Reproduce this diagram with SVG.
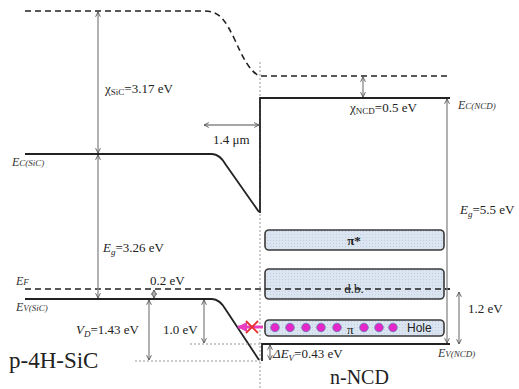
<svg xmlns="http://www.w3.org/2000/svg" width="519" height="389" viewBox="0 0 519 389">
<defs>
<pattern id="dots" width="3" height="3" patternUnits="userSpaceOnUse">
<rect width="3" height="3" fill="#dbe5f1"/>
<rect width="1" height="1" fill="#c3cfdf"/>
</pattern>
<marker id="ah" viewBox="0 0 10 10" refX="9" refY="5" markerWidth="6" markerHeight="6" orient="auto-start-reverse" markerUnits="userSpaceOnUse">
<path d="M1,1 L9,5 L1,9" fill="none" stroke="#555" stroke-width="1.5"/>
</marker>
<marker id="pk" viewBox="0 0 10 10" refX="9" refY="5" markerWidth="10" markerHeight="10" orient="auto" markerUnits="userSpaceOnUse">
<path d="M0,0 L10,5 L0,10 Z" fill="#e83fc0"/>
</marker>
</defs>
<style>
.band{fill:none;stroke:#222;stroke-width:1.8}
.vac{fill:none;stroke:#222;stroke-width:1.6;stroke-dasharray:6,4}
.dot{fill:none;stroke:#999;stroke-width:1;stroke-dasharray:2,2}
.arr{fill:none;stroke:#888;stroke-width:1.3;marker-start:url(#ah);marker-end:url(#ah)}
.box{fill:url(#dots);stroke:#3a3a3a;stroke-width:1.6}
.t{font-family:"Liberation Serif",serif;font-size:13px;fill:#222}
.ti{font-family:"Liberation Serif",serif;font-size:12px;font-style:italic;fill:#333}
.big{font-family:"Liberation Serif",serif;fill:#222}
.hole{fill:#e626c8;stroke:#5a7bb0;stroke-width:0.8}
</style>
<rect width="519" height="389" fill="#fff"/>
<g id="bands">
<path class="vac" d="M25,11 H205 C220,11 226,22 234,38 C243,58 249,70 259,76"/>
<path class="vac" d="M261,76 H450"/>
<path class="dot" d="M260,62 V389"/>
<path class="band" d="M25,154 H212 C218,154 222,158 226,165 L259,212"/>
<path class="band" d="M260,213 V98 H450"/>
<path class="band" d="M25,299 H212 C218,299 222,303 226,310 L259,360"/>
<path class="band" d="M262,361 V344 H450"/>
<path class="vac" d="M25,289 H450"/>
<path class="dot" d="M190,344 H260 M135,361 H260"/>
</g>
<g id="boxes">
<rect id="pistar" class="box" x="265" y="230" width="179" height="20" rx="4"/>
<rect id="db" class="box" x="265" y="269" width="179" height="30" rx="4"/>
<path class="vac" d="M265,289 H450" stroke-width="1.4"/>
<rect id="pi" class="box" x="265" y="320" width="179" height="16" rx="4"/>
<text class="t" x="354" y="245" text-anchor="middle" font-weight="bold">π*</text>
<text class="t" x="354" y="293" text-anchor="middle">d.b.</text>
<g id="holes">
<circle class="hole" cx="275" cy="327.5" r="4.3"/>
<circle class="hole" cx="290" cy="327.5" r="4.3"/>
<circle class="hole" cx="306" cy="327.5" r="4.3"/>
<circle class="hole" cx="321" cy="327.5" r="4.3"/>
<circle class="hole" cx="337" cy="327.5" r="4.3"/>
<text class="t" x="347" y="334">π</text>
<circle class="hole" cx="364" cy="327.5" r="4.3"/>
<circle class="hole" cx="379" cy="327.5" r="4.3"/>
<circle class="hole" cx="393" cy="327.5" r="4.3"/>
<text x="407" y="332" font-family="Liberation Sans,sans-serif" font-size="12" fill="#222">Hole</text>
</g>
</g>
<g id="connectors">
<path class="arr" d="M98,12 V153"/>
<path class="arr" d="M98,155 V298"/>
<path class="arr" d="M204,125 H259"/>
<path class="arr" d="M363,77 V97"/>
<path class="arr" d="M447,99 V343"/>
<path class="arr" d="M459,292 V344"/>
<path class="arr" d="M149,300 V360"/>
<path class="arr" d="M204,300 V343"/>
<path class="arr" d="M154,290 V298"/>
<path class="arr" d="M270,345 V360"/>
<path d="M263,327 H238" fill="none" stroke="#e83fc0" stroke-width="3" marker-end="url(#pk)"/>
<path d="M246,321 L258,333 M258,321 L246,333" stroke="#e8322f" stroke-width="1.8"/>
</g>
<g id="labels">
<text class="t" x="105" y="93">χ<tspan font-size="9" dy="2">SiC</tspan><tspan dy="-2">=3.17 eV</tspan></text>
<text class="t" x="213" y="144">1.4 μm</text>
<text class="t" x="103" y="252"><tspan font-style="italic">E</tspan><tspan font-size="9" font-style="italic" dy="3">g</tspan><tspan dy="-3">=3.26 eV</tspan></text>
<text class="t" x="350" y="112">χ<tspan font-size="9" dy="2">NCD</tspan><tspan dy="-2">=0.5 eV</tspan></text>
<text class="ti" x="458" y="109">E<tspan font-size="9">C(NCD)</tspan></text>
<text class="t" x="460" y="214"><tspan font-style="italic">E</tspan><tspan font-size="9" font-style="italic" dy="3">g</tspan><tspan dy="-3">=5.5 eV</tspan></text>
<text class="ti" x="12" y="166">E<tspan font-size="9">C(SiC)</tspan></text>
<text class="ti" x="16" y="285">E<tspan font-size="9">F</tspan></text>
<text class="ti" x="16" y="311">E<tspan font-size="9">V(SiC)</tspan></text>
<text class="t" x="150" y="285">0.2 eV</text>
<text class="t" x="76" y="334"><tspan font-style="italic">V</tspan><tspan font-size="9" font-style="italic" dy="3">D</tspan><tspan dy="-3">=1.43 eV</tspan></text>
<text class="t" x="163" y="334">1.0 eV</text>
<text class="t" x="468" y="313">1.2 eV</text>
<text class="t" x="273" y="358"><tspan font-style="italic">ΔE</tspan><tspan font-size="9" font-style="italic" dy="3">V</tspan><tspan dy="-3">=0.43 eV</tspan></text>
<text class="ti" x="438" y="357">E<tspan font-size="9">V(NCD)</tspan></text>
<text class="big" x="9" y="368" font-size="23">p-4H-SiC</text>
<text class="big" x="330" y="384" font-size="20">n-NCD</text>
</g>
</svg>
